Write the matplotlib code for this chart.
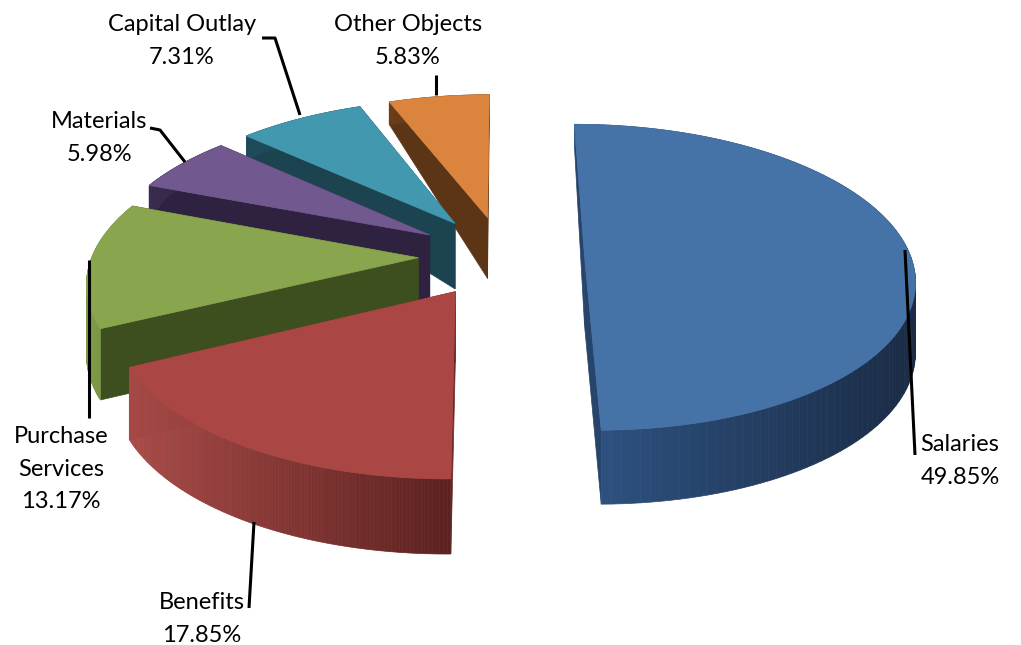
import numpy as np
import matplotlib
matplotlib.use("Agg")
import matplotlib.pyplot as plt
from matplotlib.colors import to_rgb

names = ['Salaries', 'Benefits', 'Purchase\nServices', 'Materials', 'Capital Outlay', 'Other Objects']
values = [49.85, 17.85, 13.17, 5.98, 7.31, 5.83]
top_colors = ['#4572a7', '#aa4643', '#89a54e', '#71588f', '#4198af', '#db843d']
wall_colors = ['#27456b', '#6b2a28', '#3d4f1f', '#2e2240', '#1b4350', '#5c3516']
rim_left = ['#2f5585', '#a84a47', '#7f9c48', '#3a2c50', '#1f4c5c', '#6b3e1a']
rim_right = ['#1a2b45', '#5c2220', '#6f8c3a', '#2e2240', '#1b4350', '#5c3516']

# pie plane -> pixels, with a bit of perspective
cx, cy = 503, 256
rx, ry = 326, 150
k = 0.14
explode = [0.25, 0.27, 0.26, 0.27, 0.27, 0.27]
depth_v = [-1.4, -0.6, -0.2, 1.4]
depth_px = [22, 24, 68, 76]


def project(u, v):
    s = 1 / (1 - k * v)
    return cx + rx * u * s, cy + ry * v * s


fig = plt.figure(figsize=(10.21, 6.45), dpi=100)
ax = fig.add_axes([0, 0, 1, 1])
ax.set_xlim(0, 1021)
ax.set_ylim(645, 0)
ax.axis('off')

fracs = np.array(values) / sum(values)
stops = np.concatenate([[0], np.cumsum(fracs)]) * 2 * np.pi

# back slices first so the front ones sit on top
for i in [5, 4, 3, 2, 1, 0]:
    a0, a1 = stops[i], stops[i + 1]
    mid = (a0 + a1) / 2
    ou, ov = explode[i] * np.sin(mid), -explode[i] * np.cos(mid)
    t = np.linspace(a0, a1, 120)
    u = ou + np.sin(t)
    v = ov - np.cos(t)
    x, y = project(u, v)
    d = np.interp(v, depth_v, depth_px)
    ax_, ay_ = project(ou, ov)
    ad = np.interp(ov, depth_v, depth_px)

    # the two flat cut faces
    for j in [0, -1]:
        ax.fill([ax_, x[j], x[j], ax_], [ay_, y[j], y[j] + d[j], ay_ + ad],
                color=wall_colors[i], lw=0.5, zorder=i * -10 + 1)
    # outer rim, shaded left to right
    c0, c1 = np.array(to_rgb(rim_left[i])), np.array(to_rgb(rim_right[i]))
    for j in range(len(t) - 1):
        f = (x[j] - x.min()) / (x.max() - x.min())
        ax.fill([x[j], x[j + 1], x[j + 1], x[j]],
                [y[j], y[j + 1], y[j + 1] + d[j + 1], y[j] + d[j]],
                color=c0 + (c1 - c0) * f, lw=0.5, zorder=i * -10 + 2)
    ax.fill(np.r_[ax_, x], np.r_[ay_, y], color=top_colors[i], lw=0.5, zorder=i * -10 + 3)

# leader lines
leaders = [
    ([905, 915], [250, 455]),
    ([254, 249], [522, 608]),
    ([89, 89], [260, 418]),
    ([150, 160, 185], [128, 130, 162]),
    ([262, 275, 300], [38, 38, 115]),
    ([436, 436], [75, 95]),
]
for lx, ly in leaders:
    ax.plot(lx, ly, color='black', lw=2.2, zorder=5, solid_capstyle='butt')

label_pos = [(960, 461), (202, 619), (61, 469), (99, 138), (182, 41), (408, 41)]
for name, val, (px, py) in zip(names, values, label_pos):
    ax.text(px, py, f'{name}\n{val:.2f}%', ha='center', va='center', fontsize=17,
            family='Lato', color='black', linespacing=1.7, zorder=6)

fig.savefig('out.png', dpi=100)
